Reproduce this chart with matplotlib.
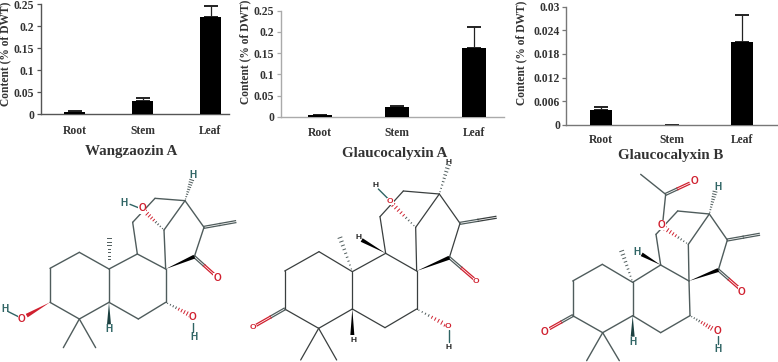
import numpy as np
import matplotlib
matplotlib.use("Agg")
import matplotlib.pyplot as plt
from matplotlib.patches import Polygon

W, H = 778, 362
plt.rcParams['font.family'] = ['Liberation Serif', 'DejaVu Serif']
plt.rcParams['font.weight'] = 'bold'

categories = ['Root', 'Stem', 'Leaf']
wangzaozin = [0.005, 0.030, 0.222]
wangzaozin_err = [0.002, 0.006, 0.025]
glauco_a = [0.003, 0.022, 0.162]
glauco_a_err = [0.002, 0.004, 0.050]
glauco_b = [0.0037, 0.0, 0.021]
glauco_b_err = [0.0009, 0.0, 0.007]
ticks_ab = [0, 0.05, 0.1, 0.15, 0.2, 0.25]
ticklabels_ab = ['0', '0.05', '0.1', '0.15', '0.2', '0.25']
ticks_c = [0, 0.006, 0.012, 0.018, 0.024, 0.03]
ticklabels_c = ['0', '0.006', '0.012', '0.018', '0.024', '0.03']

fig = plt.figure(figsize=(W / 100, H / 100), dpi=100)
TXT = '#333333'

def bar_panel(left, right, top, bottom, c0, spacing, vals, errs, ticks, labels, ymax,
              title, title_xy, ylab_xy, spine, pad):
    ax = fig.add_axes([left / W, 1 - bottom / H, (right - left) / W, (bottom - top) / H])
    ax.patch.set_alpha(0)
    x = np.arange(len(vals))
    ax.bar(x, vals, width=0.31, color='black', zorder=3)
    ax.errorbar(x, vals, yerr=[np.zeros(len(errs)), errs], fmt='none', ecolor='#222222',
                elinewidth=0.9, capsize=5.0, capthick=1.4, zorder=2)
    ax.set_xlim((left - c0) / spacing, (right - c0) / spacing)
    ax.set_ylim(0, ymax)
    ax.set_yticks(ticks, labels)
    ax.set_xticks(x, categories)
    ax.tick_params(axis='x', length=0, pad=pad, labelsize=8.4, labelcolor=TXT)
    ax.tick_params(axis='y', length=3, width=0.9, pad=1.5, labelsize=8.4, labelcolor=TXT, color=spine)
    for s in ('top', 'right'):
        ax.spines[s].set_visible(False)
    for s in ('left', 'bottom'):
        ax.spines[s].set_color(spine)
        ax.spines[s].set_linewidth(1.0)
    fig.text(title_xy[0] / W, 1 - title_xy[1] / H, title, ha='center', va='center',
             fontsize=10.8, color=TXT, fontweight='bold')
    fig.text(ylab_xy[0] / W, 1 - ylab_xy[1] / H, 'Content (% of DWT)', rotation=90, ha='center',
             va='center', fontsize=8.3, color=TXT, fontweight='bold')

bar_panel(40.7, 229, 4.3, 114.3, 74.5, 68, wangzaozin, wangzaozin_err, ticks_ab, ticklabels_ab,
          0.25, 'Wangzaozin A', (131, 151.5), (5, 54), '#555555', 7.5)
bar_panel(280.7, 504, 10.7, 116.7, 319.7, 77.2, glauco_a, glauco_a_err, ticks_ab, ticklabels_ab,
          0.25, 'Glaucocalyxin A', (395, 153.5), (245, 52), '#aaaaaa', 7.5)
bar_panel(566.3, 778, 6.7, 124.7, 601, 70.5, glauco_b, glauco_b_err, ticks_c, ticklabels_c,
          0.03, 'Glaucocalyxin B', (671, 155.5), (521, 53), '#777777', 6.5)

# Overlay in pixel coordinates for the structural formulas
ov = fig.add_axes([0, 0, 1, 1])
ov.set_xlim(0, W)
ov.set_ylim(H, 0)
ov.axis('off')
ov.patch.set_alpha(0)

BOND = '#4f5c5c'
RED = '#d0202f'
HCOL = '#2f6464'


def pts(origin, a):
    return np.array([origin[0] + a[0] / 3, origin[1] + a[1] / 3])


def bond(o, a, b, col=BOND, lw=1.0):
    p, q = pts(o, a), pts(o, b)
    ov.plot([p[0], q[0]], [p[1], q[1]], color=col, lw=lw, solid_capstyle='round', zorder=2)


def double(o, a, b, col_end=RED, off=1.0):
    p, q = pts(o, a), pts(o, b)
    d = q - p
    n = np.array([-d[1], d[0]]) / np.hypot(*d) * off
    m = (p + q) / 2
    for s in (1, -1):
        ov.plot([p[0] + s * n[0], m[0] + s * n[0]], [p[1] + s * n[1], m[1] + s * n[1]],
                color=BOND, lw=0.9, zorder=2)
        ov.plot([m[0] + s * n[0], q[0] + s * n[0]], [m[1] + s * n[1], q[1] + s * n[1]],
                color=col_end, lw=0.9, zorder=2)


def wedge(o, a, b, col='black', w=2.0):
    p, q = pts(o, a), pts(o, b)
    d = q - p
    n = np.array([-d[1], d[0]]) / np.hypot(*d) * w
    ov.add_patch(Polygon([p, q + n, q - n], closed=True, fc=col, ec='none', zorder=3))


def hashed(o, a, b, col=BOND, w=2.0, col2=None, k=9):
    p, q = pts(o, a), pts(o, b)
    d = q - p
    n = np.array([-d[1], d[0]]) / np.hypot(*d) * w
    for t in np.linspace(0.08, 1, k):
        c = p + d * t
        ov.plot([c[0] - n[0] * t, c[0] + n[0] * t], [c[1] - n[1] * t, c[1] + n[1] * t],
                color=(col2 if (col2 and t > 0.5) else col), lw=0.7, zorder=3)


def atom(o, a, s, col, size=7.2):
    p = pts(o, a)
    ov.text(p[0], p[1], s, ha='center', va='center', fontsize=size, color=col, zorder=5,
            family=['Liberation Sans', 'DejaVu Sans'], fontweight='bold',
            bbox=dict(fc='white', ec='none', pad=0.15) if s == 'O' else None)


# ---- Wangzaozin A
o1 = (0, 165)
for a, b in [((238, 262), (150, 310)), ((150, 310), (150, 412)), ((150, 412), (238, 462)),
             ((238, 462), (327, 412)), ((327, 412), (327, 312)), ((327, 312), (238, 262)),
             ((238, 462), (190, 548)), ((238, 462), (287, 548)), ((327, 412), (415, 462)),
             ((415, 462), (497, 412)), ((497, 412), (497, 312)), ((497, 312), (412, 267)),
             ((412, 267), (327, 312)), ((412, 267), (398, 172)), ((398, 172), (465, 100)),
             ((465, 100), (555, 107)), ((555, 107), (612, 187)), ((612, 187), (583, 275)),
             ((497, 312), (492, 195)), ((492, 195), (555, 107))]:
    bond(o1, a, b)
double(o1, (612, 187), (707, 170), col_end=BOND)
double(o1, (583, 275), (642, 328))
bond(o1, (580, 470), (580, 500), HCOL)
bond(o1, (55, 455), (25, 440), HCOL)
bond(o1, (390, 118), (415, 128), HCOL)
wedge(o1, (497, 312), (583, 275))
wedge(o1, (150, 412), (80, 452), RED)
wedge(o1, (327, 412), (327, 478), '#1c4040')
hashed(o1, (327, 312), (327, 220))
hashed(o1, (497, 412), (570, 450), col2=RED)
hashed(o1, (555, 107), (575, 45))
hashed(o1, (492, 195), (435, 140), col2=RED)
for a, s, c in [((65, 462), 'O', RED), ((15, 432), 'H', HCOL), ((328, 492), 'H', HCOL),
                ((578, 457), 'O', RED), ((582, 515), 'H', HCOL), ((652, 340), 'O', RED),
                ((427, 130), 'O', RED), ((373, 113), 'H', HCOL), ((580, 30), 'H', HCOL)]:
    atom(o1, a, s, c)

# ---- Glaucocalyxin A
o2 = (240, 165)
for a, b in [((237, 260), (134, 318)), ((134, 318), (134, 432)), ((134, 432), (236, 490)),
             ((236, 490), (337, 432)), ((337, 432), (337, 320)), ((337, 320), (237, 260)),
             ((236, 490), (182, 585)), ((236, 490), (290, 585)), ((337, 432), (435, 488)),
             ((435, 488), (530, 432)), ((530, 432), (530, 318)), ((530, 318), (437, 265)),
             ((437, 265), (337, 320)), ((437, 265), (420, 155)), ((420, 155), (490, 78)),
             ((490, 78), (598, 87)), ((598, 87), (660, 175)), ((660, 175), (628, 278)),
             ((530, 318), (527, 187)), ((527, 187), (598, 87))]:
    bond(o2, a, b, col='#3a3f3f', lw=0.9)
double(o2, (660, 175), (768, 157), col_end='#3a3f3f')
double(o2, (628, 278), (700, 340))
double(o2, (134, 432), (50, 480))
bond(o2, (627, 495), (627, 530), HCOL)
bond(o2, (415, 72), (443, 100), HCOL)
wedge(o2, (530, 318), (628, 278))
wedge(o2, (337, 432), (337, 510))
wedge(o2, (437, 265), (365, 225))
hashed(o2, (337, 320), (300, 218))
hashed(o2, (530, 432), (615, 478), col2=RED)
hashed(o2, (598, 87), (625, 0))
hashed(o2, (527, 187), (460, 120), col2=RED)
for a, s, c in [((38, 488), 'O', RED), ((340, 525), 'H', '#222222'), ((625, 483), 'O', RED),
                ((627, 548), 'H', '#222222'), ((708, 350), 'O', RED), ((451, 110), 'O', RED),
                ((407, 62), 'H', '#222222'), ((355, 218), 'H', '#222222'), ((625, -6), 'H', '#222222')]:
    atom(o2, a, s, c, size=6)

# ---- Glaucocalyxin B
o3 = (510, 165)
for a, b in [((277, 298), (188, 348)), ((188, 348), (188, 452)), ((188, 452), (278, 503)),
             ((278, 503), (368, 452)), ((368, 452), (368, 352)), ((368, 352), (277, 298)),
             ((278, 503), (230, 587)), ((278, 503), (328, 587)), ((368, 452), (452, 503)),
             ((452, 503), (540, 452)), ((540, 452), (537, 348)), ((537, 348), (452, 300)),
             ((452, 300), (368, 352)), ((452, 300), (438, 208)), ((438, 208), (503, 138)),
             ((503, 138), (598, 147)), ((598, 147), (652, 225)), ((652, 225), (625, 315)),
             ((537, 348), (535, 238)), ((535, 238), (598, 147)), ((459, 165), (467, 88)),
             ((467, 88), (392, 28))]:
    bond(o3, a, b)
double(o3, (652, 225), (748, 208), col_end=BOND)
double(o3, (625, 315), (688, 370))
double(o3, (188, 452), (120, 490))
double(o3, (467, 88), (538, 55))
bond(o3, (623, 512), (623, 538), HCOL)
wedge(o3, (537, 348), (625, 315))
wedge(o3, (368, 452), (368, 515), '#1c4040')
wedge(o3, (452, 300), (395, 268))
hashed(o3, (368, 352), (335, 258))
hashed(o3, (540, 452), (605, 490), col2=RED)
hashed(o3, (598, 147), (615, 80))
hashed(o3, (535, 238), (465, 190), col2=RED)
for a, s, c in [((105, 500), 'O', RED), ((368, 532), 'H', HCOL), ((623, 498), 'O', RED),
                ((623, 553), 'H', HCOL), ((695, 380), 'O', RED), ((456, 180), 'O', RED),
                ((382, 262), 'H', HCOL), ((623, 65), 'H', HCOL), ((555, 47), 'O', RED)]:
    atom(o3, a, s, c)

fig.savefig('out.png', dpi=100)
